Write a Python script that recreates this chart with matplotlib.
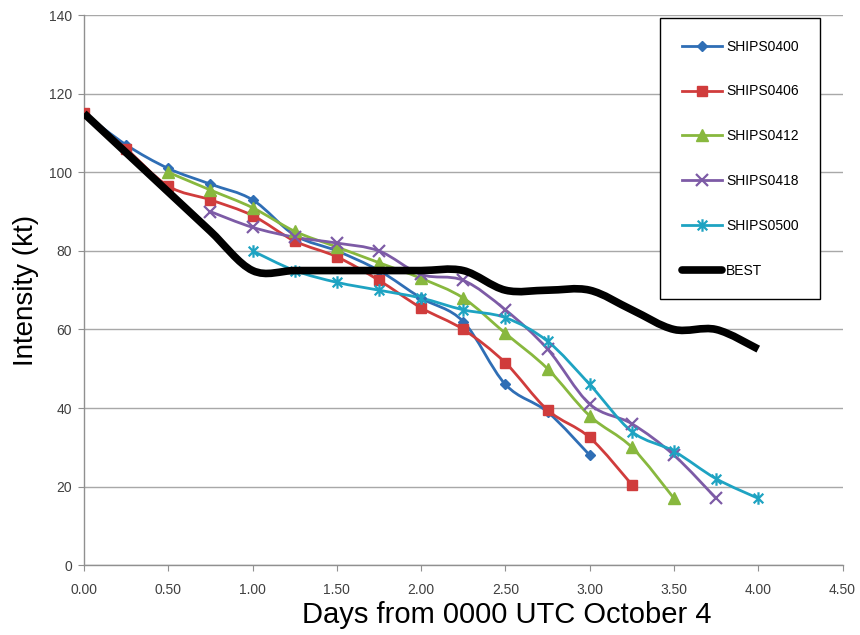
import numpy as np
import matplotlib
matplotlib.use("Agg")
import matplotlib.pyplot as plt
from matplotlib.path import Path
from matplotlib.patches import PathPatch
from matplotlib.lines import Line2D

# forecast times (days from 0000 UTC Oct 4)
days_0400 = [0.0, 0.25, 0.5, 0.75, 1.0, 1.25, 1.5, 1.75, 2.0, 2.25, 2.5, 2.75, 3.0]
ships_0400 = [115, 107, 101, 97, 93, 84, 80, 75, 68, 62, 46, 39, 28]

days_0406 = [0.0, 0.25, 0.5, 0.75, 1.0, 1.25, 1.5, 1.75, 2.0, 2.25, 2.5, 2.75, 3.0, 3.25]
ships_0406 = [115, 106, 96.5, 93, 89, 82.5, 78.5, 72.5, 65.5, 60, 51.5, 39.5, 32.5, 20.5]

days_0412 = [0.5, 0.75, 1.0, 1.25, 1.5, 1.75, 2.0, 2.25, 2.5, 2.75, 3.0, 3.25, 3.5]
ships_0412 = [100, 95.5, 91, 85, 81, 77, 73, 68, 59, 50, 38, 30, 17]

days_0418 = [0.75, 1.0, 1.25, 1.5, 1.75, 2.0, 2.25, 2.5, 2.75, 3.0, 3.25, 3.5, 3.75]
ships_0418 = [90, 86, 83.5, 82, 80, 74, 72.5, 65, 55, 41, 36, 28, 17]

days_0500 = [1.0, 1.25, 1.5, 1.75, 2.0, 2.25, 2.5, 2.75, 3.0, 3.25, 3.5, 3.75, 4.0]
ships_0500 = [80, 75, 72, 70, 68, 65, 63, 57, 46, 34, 29, 22, 17]

days_best = [0.0, 0.25, 0.5, 0.75, 1.0, 1.25, 1.5, 1.75, 2.0, 2.25, 2.5, 2.75, 3.0, 3.25, 3.5, 3.75, 4.0]
best = [115, 105, 95, 85, 75, 75, 75, 75, 75, 75, 70, 70, 70, 65, 60, 60, 55]

x_ticks = [0.0, 0.5, 1.0, 1.5, 2.0, 2.5, 3.0, 3.5, 4.0, 4.5]
y_ticks = [0, 20, 40, 60, 80, 100, 120, 140]


# Excel-style smoothed line: cubic bezier segments through the data points
def smooth_path(xs, ys):
    pts = np.column_stack([xs, ys]).astype(float)
    n = len(pts)
    verts = [pts[0]]
    codes = [Path.MOVETO]
    for i in range(n - 1):
        p0 = pts[i - 1] if i > 0 else pts[i]
        p1 = pts[i]
        p2 = pts[i + 1]
        p3 = pts[i + 2] if i + 2 < n else pts[i + 1]
        c1 = p1 + (p2 - p0) / 6.0
        c2 = p2 - (p3 - p1) / 6.0
        verts += [c1, c2, p2]
        codes += [Path.CURVE4] * 3
    return Path(verts, codes)


# Excel "star" marker: an x with a vertical bar
star = Path([(-1, -1), (1, 1), (-1, 1), (1, -1), (0, -1.3), (0, 1.3)],
            [Path.MOVETO, Path.LINETO, Path.MOVETO, Path.LINETO, Path.MOVETO, Path.LINETO])

series = [
    ("SHIPS0400", days_0400, ships_0400, "#2f6eb5", "D", 5, False),
    ("SHIPS0406", days_0406, ships_0406, "#d03c3c", "s", 7, False),
    ("SHIPS0412", days_0412, ships_0412, "#88b83e", "^", 8, False),
    ("SHIPS0418", days_0418, ships_0418, "#7d5ba6", "x", 8, True),
    ("SHIPS0500", days_0500, ships_0500, "#1ea3c2", star, 9, True),
]

tick_font = ["Liberation Sans", "DejaVu Sans"]

fig = plt.figure(figsize=(8.6, 6.35), dpi=100)
ax = fig.add_axes([0.0977, 0.110, 0.882, 0.866])

handles = []
for name, xs, ys, col, mk, ms, lined in series:
    ax.add_patch(PathPatch(smooth_path(xs, ys), facecolor="none", edgecolor=col,
                           lw=2.0, zorder=3, capstyle="round", joinstyle="round"))
    if lined:
        ax.plot(xs, ys, linestyle="none", marker=mk, ms=ms, mec=col, mew=1.6, zorder=4)
        h = Line2D([], [], color=col, lw=2.0, marker=mk, ms=ms, mec=col, mew=1.6)
    else:
        ax.plot(xs, ys, linestyle="none", marker=mk, ms=ms, mfc=col, mec=col, zorder=4)
        h = Line2D([], [], color=col, lw=2.0, marker=mk, ms=ms, mfc=col, mec=col)
    handles.append(h)

ax.add_patch(PathPatch(smooth_path(days_best, best), facecolor="none", edgecolor="black",
                       lw=5.5, zorder=5, capstyle="butt", joinstyle="round"))
handles.append(Line2D([], [], color="black", lw=5.5, solid_capstyle="round"))

ax.set_xlim(0, 4.5)
ax.set_ylim(0, 140)
ax.set_xticks(x_ticks)
ax.set_xticklabels([f"{v:.2f}" for v in x_ticks])
ax.set_yticks(y_ticks)
ax.yaxis.grid(True, color="#a8a8a8", lw=1.0)
ax.set_axisbelow(True)
for s in ["top", "right"]:
    ax.spines[s].set_visible(False)
for s in ["left", "bottom"]:
    ax.spines[s].set_color("#909090")
    ax.spines[s].set_linewidth(1.0)
ax.tick_params(axis="both", direction="out", length=4.5, color="#909090",
               labelsize=10, labelcolor="#404040")
ax.tick_params(axis="x", pad=8.5)
ax.tick_params(axis="y", pad=4)
for lab in ax.get_xticklabels() + ax.get_yticklabels():
    lab.set_family(tick_font)

ax.set_ylabel("Intensity (kt)", fontsize=20, family="Liberation Sans")
ax.yaxis.set_label_coords(-0.060, 0.5)
ax.set_xlabel("Days from 0000 UTC October 4", fontsize=21, family="Liberation Sans")
ax.xaxis.set_label_coords(0.557, -0.066)

leg = fig.legend(handles, ["SHIPS0400", "SHIPS0406", "SHIPS0412", "SHIPS0418", "SHIPS0500", "BEST"],
                 loc="upper left", bbox_to_anchor=(660 / 860, 1 - 18 / 635),
                 prop={"family": tick_font, "size": 10},
                 fancybox=False, framealpha=1, edgecolor="black", labelspacing=2.22,
                 handlelength=2.9, handletextpad=0.3, borderpad=1.55, borderaxespad=0)
leg.get_frame().set_linewidth(1.0)

fig.savefig("out.png", dpi=100)
